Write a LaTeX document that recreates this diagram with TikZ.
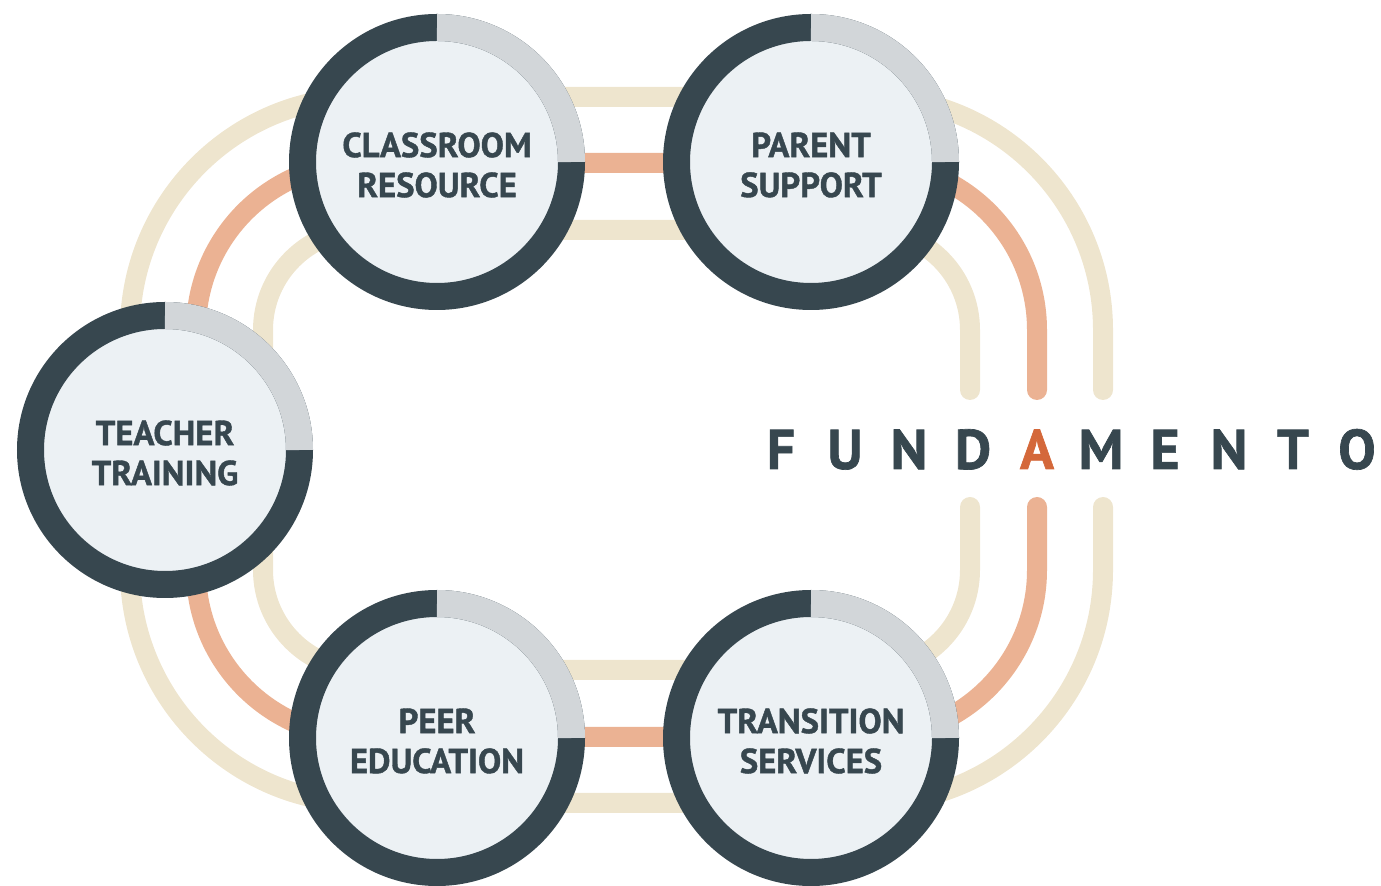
\documentclass[tikz,border=0pt]{standalone}
\usepackage{fontspec}
\setmainfont{PT Sans}
\newfontfamily\heavyfont{PT Sans Bold}[FakeBold=1.2]
\definecolor{dark}{HTML}{37474F}
\definecolor{ringgray}{HTML}{D2D6D9}
\definecolor{fillc}{HTML}{ECF1F4}
\definecolor{beige}{HTML}{EEE5CE}
\definecolor{salmon}{HTML}{EBB293}
\definecolor{accent}{HTML}{D4683A}
\tikzset{
  track/.style={line width=15pt, line cap=round},
  ring/.style={circle, minimum size=201.75pt, inner sep=0pt, outer sep=0pt,
    fill=fillc, draw=dark, line width=20.25pt},
  lbl/.style={text=dark, align=center, inner sep=0pt, yshift=-2.25pt,
    font=\heavyfont\fontsize{26}{30}\selectfont},
  quarter/.style={draw=ringgray, line width=20.25pt},
  logo/.style={anchor=base, text=dark, inner sep=0pt, font=\heavyfont\fontsize{42}{42}\selectfont}
}
\begin{document}
\begin{tikzpicture}[x=0.75pt,y=0.75pt]
\useasboundingbox (0,0) rectangle (1381,885);
% tracks
\draw[track, beige, rounded corners=75pt] (970,495) -- (970,655) -- (263,655) -- (263,215) -- (970,215) -- (970,378);
\draw[track, salmon, rounded corners=125.25pt] (1037,495) -- (1037,722) -- (196,722) -- (196,148) -- (1037,148) -- (1037,378);
\draw[track, beige, rounded corners=174.75pt] (1103,495) -- (1103,788) -- (130,788) -- (130,82) -- (1103,82) -- (1103,378);
% circles
\node[ring] (cr) at (437,723) {};
\node[ring] (ps) at (811,723) {};
\node[ring] (tt) at (165,435) {};
\node[ring] (pe) at (437,147) {};
\node[ring] (ts) at (811,147) {};
\foreach \n in {cr,ps,tt,pe,ts}
  \draw[quarter] (\n.north) arc[start angle=90, end angle=0, radius=100.875pt];
\node[lbl] (crt) at (cr.center) {CLASSROOM\\RESOURCE};
\node[lbl] (pst) at (ps.center) {PARENT\\SUPPORT};
\node[lbl] (ttt) at (tt.center) {TEACHER\\TRAINING};
\node[lbl] (pet) at (pe.center) {PEER\\EDUCATION};
\node[lbl] (tst) at (ts.center) {TRANSITION\\SERVICES};
% logo
\node[logo] (l1) at (781,416) {F};
\node[logo] (l2) at (845,416) {U};
\node[logo] (l3) at (909,416) {N};
\node[logo] (l4) at (973,416) {D};
\node[logo, text=accent] (l5) at (1037,416) {A};
\node[logo] (l6) at (1101,416) {M};
\node[logo] (l7) at (1165,416) {E};
\node[logo] (l8) at (1229,416) {N};
\node[logo] (l9) at (1293,416) {T};
\node[logo] (l10) at (1357,416) {O};
\end{tikzpicture}
\end{document}
